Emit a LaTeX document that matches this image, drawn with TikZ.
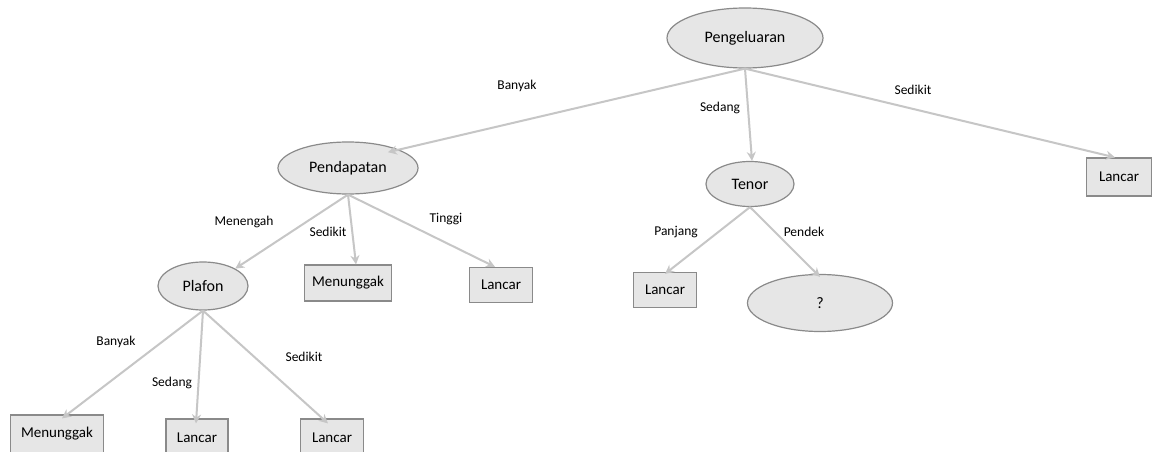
\documentclass[tikz,border=0pt]{standalone}
\usepackage{fontspec}
\setmainfont{Carlito}
\usetikzlibrary{shapes.geometric,arrows.meta}
\definecolor{nodefill}{HTML}{E6E6E6}
\definecolor{nodeedge}{HTML}{8A8A8A}
\definecolor{linkgray}{HTML}{C6C6C6}
\begin{document}
\begin{tikzpicture}[x=1pt,y=-1pt,
  attr/.style={ellipse,draw=nodeedge,fill=nodefill,line width=1.2pt,inner sep=0pt,
    font=\fontsize{16}{19}\selectfont},
  leafbox/.style={rectangle,draw=nodeedge,fill=nodefill,line width=1.2pt,inner sep=0pt,
    font=\fontsize{15}{18}\selectfont},
  link/.style={draw=linkgray,line width=2pt,-{Stealth[length=9pt,width=9pt]}},
  lbl/.style={font=\fontsize{13.5}{16}\selectfont,text=black}]
\clip (0,0) rectangle (1157,452);
\fill[white] (0,0) rectangle (1157,452);

% internal nodes
\node[attr,minimum width=156pt,minimum height=60pt] (peng) at (745,38) {Pengeluaran};
\node[attr,minimum width=140pt,minimum height=52pt] (pend) at (348,168) {Pendapatan};
\node[attr,minimum width=90pt,minimum height=48pt] (plaf) at (203,286) {Plafon};
\node[attr,minimum width=88pt,minimum height=45pt] (tenor) at (750,184) {Tenor};
\node[attr,minimum width=145pt,minimum height=57pt] (q) at (820,303) {?};

% leaves
\node[leafbox,minimum width=65pt,minimum height=38pt] (lR) at (1119,177) {Lancar};
\node[leafbox,minimum width=87pt,minimum height=36pt] (mM) at (348,283) {Menunggak};
\node[leafbox,minimum width=63pt,minimum height=35pt] (lT) at (501,285) {Lancar};
\node[leafbox,minimum width=63pt,minimum height=35pt] (lP) at (665,290) {Lancar};
\node[leafbox,minimum width=93pt,minimum height=38pt] (mB) at (57,434) {Menunggak};
\node[leafbox,minimum width=62pt,minimum height=38pt] (lB1) at (197,438) {Lancar};
\node[leafbox,minimum width=63pt,minimum height=38pt] (lB2) at (332,438) {Lancar};

% edges
\draw[link] (peng.south) -- ([xshift=-10pt,yshift=-3pt]pend.north east);
\draw[link] (peng.south) -- ([xshift=2pt]tenor.north);
\draw[link] (peng.south) -- ([xshift=-4pt]lR.north);
\draw[link] (pend.south) -- (plaf.north east);
\draw[link] (pend.south) -- ([xshift=8pt]mM.north);
\draw[link] (pend.south) -- ([xshift=-6pt]lT.north);
\draw[link] (plaf.south) -- ([xshift=5pt,yshift=-4pt]mB.north);
\draw[link] (plaf.south) -- ([xshift=-1pt,yshift=-5pt]lB1.north);
\draw[link] (plaf.south) -- ([xshift=-4pt,yshift=-5pt]lB2.north);
\draw[link] (tenor.south) -- ([yshift=-2pt]lP.north);
\draw[link] (tenor.south) -- ([yshift=-3pt]q.north);

% edge labels
\node[lbl] (tBanyak) at (517,86) {Banyak};
\node[lbl] (tSedang) at (720,108) {Sedang};
\node[lbl] (tSedikit) at (913,90) {Sedikit};
\node[lbl] (tMenengah) at (244,222) {Menengah};
\node[lbl] (tSedikit2) at (328,232) {Sedikit};
\node[lbl] (tTinggi) at (446,219) {Tinggi};
\node[lbl] (tPanjang) at (676,232) {Panjang};
\node[lbl] (tPendek) at (804,232) {Pendek};
\node[lbl] (tBanyak2) at (116,342) {Banyak};
\node[lbl] (tSedang2) at (172,383) {Sedang};
\node[lbl] (tSedikit3) at (304,357) {Sedikit};
\end{tikzpicture}
\end{document}
